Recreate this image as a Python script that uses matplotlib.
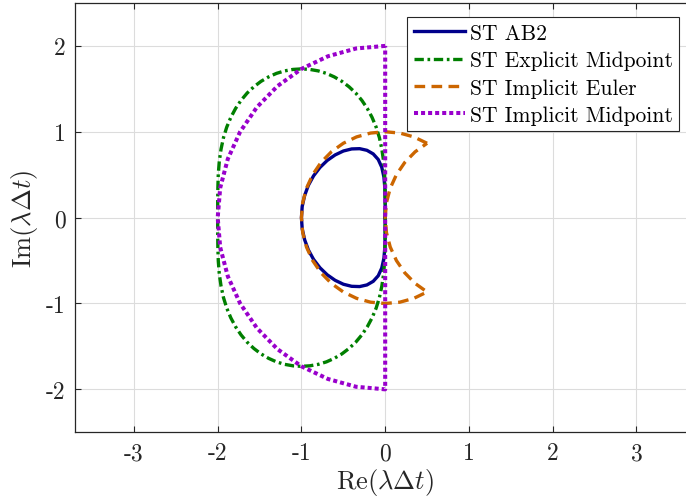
import matplotlib
matplotlib.use("Agg")
from matplotlib import pyplot as plt

plt.rcParams['font.family'] = 'serif'
plt.rcParams['font.serif'] = ['cmr10']
plt.rcParams['mathtext.fontset'] = 'cm'
plt.rcParams['axes.unicode_minus'] = False
plt.rcParams['axes.formatter.use_mathtext'] = True

# ST AB2 boundary
ab2_x = [0.0, -0.000, -0.003, -0.015, -0.041, -0.083, -0.143, -0.218, -0.305, -0.400,
         -0.499, -0.598, -0.692, -0.779, -0.855, -0.917, -0.962, -0.991, -1.0,
         -0.991, -0.962, -0.917, -0.855, -0.779, -0.692, -0.598, -0.499, -0.400,
         -0.305, -0.218, -0.143, -0.083, -0.041, -0.015, -0.003, -0.000, 0.0]
ab2_y = [0.0, 0.172, 0.333, 0.472, 0.587, 0.677, 0.742, 0.784, 0.803, 0.800,
         0.776, 0.730, 0.666, 0.584, 0.487, 0.377, 0.257, 0.130, 0.0,
         -0.130, -0.257, -0.377, -0.487, -0.584, -0.666, -0.730, -0.776, -0.800,
         -0.803, -0.784, -0.742, -0.677, -0.587, -0.472, -0.333, -0.172, 0.0]

# ST Explicit Midpoint
em_x = [0.0, -0.000, -0.002, -0.007, -0.019, -0.040, -0.069, -0.108, -0.157, -0.214,
        -0.279, -0.352, -0.432, -0.517, -0.608, -0.702, -0.800, -0.900, -1.0,
        -1.100, -1.200, -1.298, -1.392, -1.483, -1.568, -1.648, -1.721, -1.786,
        -1.843, -1.892, -1.931, -1.960, -1.981, -1.993, -1.998, -2.000, -2.0,
        -2.000, -1.998, -1.993, -1.981, -1.960, -1.931, -1.892, -1.843, -1.786,
        -1.721, -1.648, -1.568, -1.483, -1.392, -1.298, -1.200, -1.100, -1.0,
        -0.900, -0.800, -0.702, -0.608, -0.517, -0.432, -0.352, -0.279, -0.214,
        -0.157, -0.108, -0.069, -0.040, -0.019, -0.007, -0.002, -0.000, 0.0]
em_y = [0.0, 0.174, 0.343, 0.504, 0.656, 0.798, 0.931, 1.054, 1.168, 1.272,
        1.366, 1.451, 1.524, 1.587, 1.639, 1.680, 1.709, 1.726, 1.732,
        1.726, 1.709, 1.680, 1.639, 1.587, 1.524, 1.451, 1.366, 1.272,
        1.168, 1.054, 0.931, 0.798, 0.656, 0.504, 0.343, 0.174, 0.0,
        -0.174, -0.343, -0.504, -0.656, -0.798, -0.931, -1.054, -1.168, -1.272,
        -1.366, -1.451, -1.524, -1.587, -1.639, -1.680, -1.709, -1.726, -1.732,
        -1.726, -1.709, -1.680, -1.639, -1.587, -1.524, -1.451, -1.366, -1.272,
        -1.168, -1.054, -0.931, -0.798, -0.656, -0.504, -0.343, -0.174, 0.0]

# ST Implicit Euler
ie_x = [0.5, 0.342, 0.174, 0.0, -0.174, -0.342, -0.5, -0.643, -0.766, -0.866, -0.940, -0.985, -1.0,
        -0.985, -0.940, -0.866, -0.766, -0.643, -0.5, -0.342, -0.174, 0.0, 0.174, 0.342, 0.5,
        0.357, 0.234, 0.134, 0.060, 0.015, 0.0, 0.015, 0.060, 0.134, 0.234, 0.357, 0.5]
ie_y = [0.866, 0.940, 0.985, 1.0, 0.985, 0.940, 0.866, 0.766, 0.643, 0.5, 0.342, 0.174, 0.0,
        -0.174, -0.342, -0.5, -0.643, -0.766, -0.866, -0.940, -0.985, -1.0, -0.985, -0.940, -0.866,
        -0.766, -0.643, -0.5, -0.342, -0.174, 0.0, 0.174, 0.342, 0.5, 0.643, 0.766, 0.866]

# ST Implicit Midpoint
im_x = [0.0, -0.347, -0.684, -1.0, -1.286, -1.532, -1.732, -1.879, -1.970, -2.0,
        -1.970, -1.879, -1.732, -1.532, -1.286, -1.0, -0.684, -0.347, 0.0, 0.0]
im_y = [2.0, 1.970, 1.879, 1.732, 1.532, 1.286, 1.0, 0.684, 0.347, 0.0,
        -0.347, -0.684, -1.0, -1.286, -1.532, -1.732, -1.879, -1.970, -2.0, 2.0]

labels = ['ST AB2', 'ST Explicit Midpoint', 'ST Implicit Euler', 'ST Implicit Midpoint']
xticks = [-3, -2, -1, 0, 1, 2, 3]
yticks = [-2, -1, 0, 1, 2]

fig = plt.figure(figsize=(6.86, 5.02), dpi=100)
ax = fig.add_axes([0.1098, 0.1369, 0.9034, 0.8552])

ax.plot(ab2_x, ab2_y, color='#00008B', lw=2.4, label=labels[0], zorder=3)
ax.plot(em_x, em_y, color='#007F00', lw=2.4, dashes=(2.8, 1.1, 0.8, 1.1), label=labels[1], zorder=4)
ax.plot(ie_x, ie_y, color='#CC6600', lw=2.4, dashes=(3.2, 1.9), label=labels[2], zorder=5)
ax.plot(im_x, im_y, color='#9900CC', lw=2.9, dashes=(1, 0.75), dash_capstyle='butt',
        label=labels[3], zorder=6)

ax.set_xlim(-3.7, 3.7)
ax.set_ylim(-2.5, 2.5)
ax.set_xticks(xticks)
ax.set_yticks(yticks)
ax.set_xticklabels([str(t) for t in xticks])
ax.set_yticklabels([str(t) for t in yticks])
ax.tick_params(direction='in', length=4, width=0.8, labelsize=17, colors='#262626',
               top=True, right=True, pad=7)
ax.grid(True, color='#DCDCDC', lw=0.8)
ax.set_axisbelow(True)
for s in ax.spines.values():
    s.set_color('#262626')
    s.set_linewidth(0.9)

ax.set_xlabel(r'$\mathrm{Re}(\lambda\Delta t)$', fontsize=19, color='#262626', labelpad=1)
ax.set_ylabel(r'$\mathrm{Im}(\lambda\Delta t)$', fontsize=19, color='#262626', labelpad=4)

leg = ax.legend(loc='upper right', bbox_to_anchor=(679 / 686, 1 - 18 / 502),
                bbox_transform=fig.transFigure, fontsize=15.5, handlelength=2.4,
                handletextpad=0.2, borderpad=0.3, labelspacing=0.36, borderaxespad=0,
                fancybox=False, framealpha=1, edgecolor='#262626')
leg.get_frame().set_linewidth(0.8)

fig.savefig('out.png', dpi=100)
